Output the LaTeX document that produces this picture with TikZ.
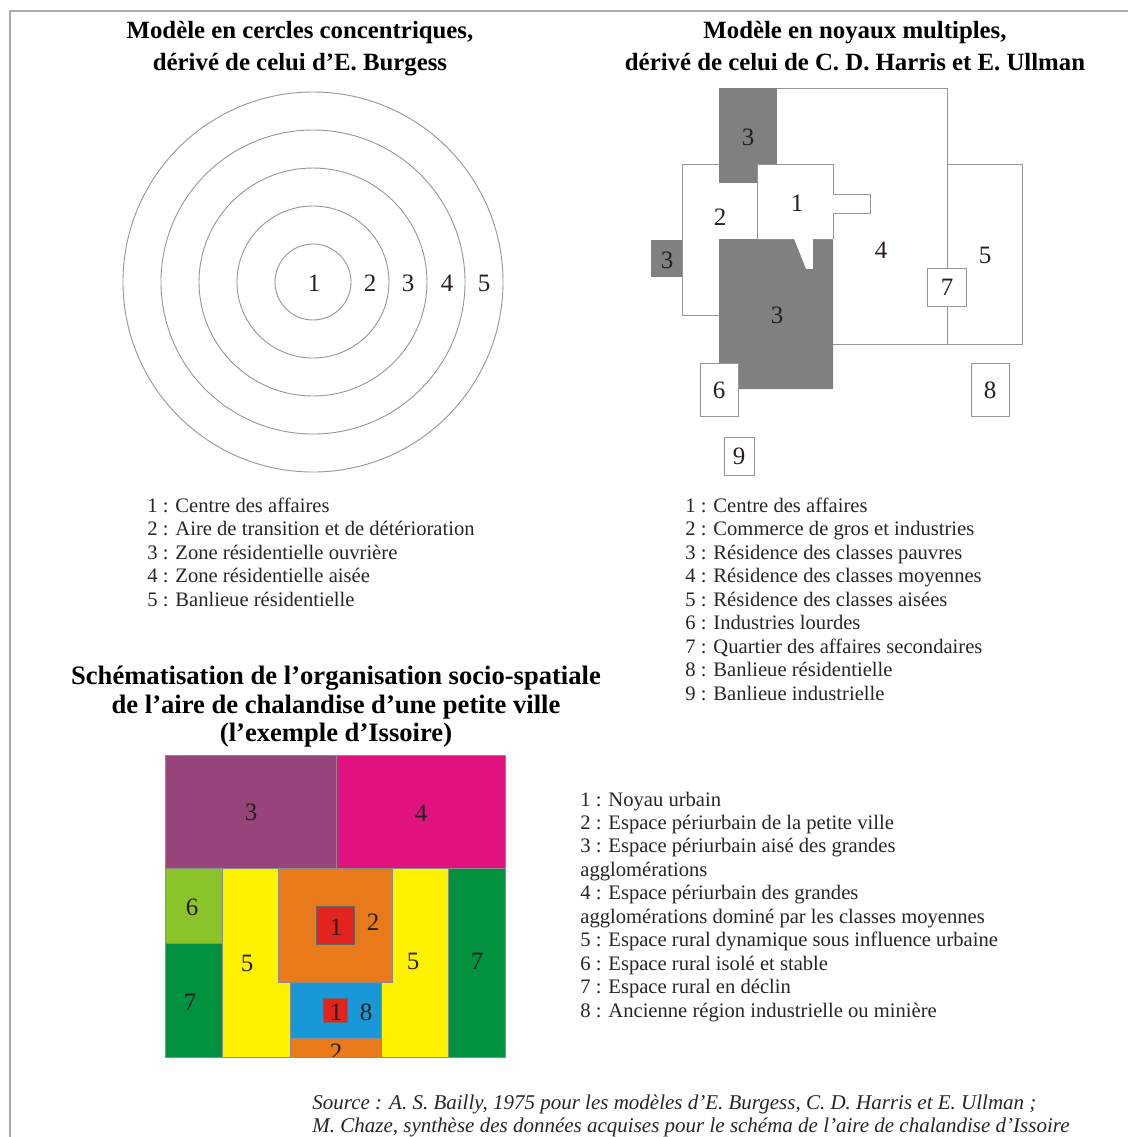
\documentclass[tikz,border=0pt]{standalone}
\usepackage{fontspec}
\setmainfont{Liberation Serif}
\definecolor{framegray}{RGB}{170,170,170}
\definecolor{linegray}{RGB}{150,150,150}
\definecolor{darkzone}{RGB}{128,128,128}
\definecolor{cpurple}{RGB}{150,68,122}
\definecolor{cmagenta}{RGB}{224,18,127}
\definecolor{clgreen}{RGB}{138,196,42}
\definecolor{cdgreen}{RGB}{0,146,63}
\definecolor{cyellow}{RGB}{255,242,0}
\definecolor{corange}{RGB}{232,122,25}
\definecolor{cred}{RGB}{226,35,30}
\definecolor{cblue}{RGB}{25,152,216}
\definecolor{labelcol}{RGB}{40,30,30}
\begin{document}
\begin{tikzpicture}[x=0.5pt,y=-0.5pt,
  lbl/.style={font=\fontsize{12.5}{14}\selectfont, inner sep=0pt, text=labelcol},
  leg/.style={font=\fontsize{10.3}{12}\selectfont, anchor=base west, inner sep=0pt, text=black!85},
  ttl/.style={font=\bfseries\fontsize{12.4}{16}\selectfont, anchor=base, inner sep=0pt},
  ttlb/.style={font=\bfseries\fontsize{13.3}{16}\selectfont, anchor=base, inner sep=0pt},
  src/.style={font=\itshape\fontsize{10.5}{12}\selectfont, anchor=base west, inner sep=0pt, text=black!85},
  ring/.style={draw=linegray, line width=0.45pt},
  zone/.style={draw=linegray, line width=0.5pt, fill=white},
  zline/.style={draw=linegray, line width=0.5pt},
  dzone/.style={fill=darkzone},
  czone/.style={draw=black!45, line width=0.3pt}]
\useasboundingbox (0,0) rectangle (1128,1137);
\fill[white] (0,0) rectangle (1128,1137);
\draw[framegray, line width=0.7pt] (10,1137) -- (10,11) -- (1128,11);

% ---- titles
\node[ttl] (t1a) at (300,38) {Modèle en cercles concentriques,};
\node[ttl] (t1b) at (300,70) {dérivé de celui d’E. Burgess};
\node[ttl] (t2a) at (855,38) {Modèle en noyaux multiples,};
\node[ttl] (t2b) at (855,70) {dérivé de celui de C. D. Harris et E. Ullman};

% ---- concentric circles
\foreach \r in {38,76,114,152,190}
  \draw[ring] (313,282) circle[radius=\r*0.5pt];
\node[lbl] (c1) at (314,283) {1};
\node[lbl] (c2) at (370,283) {2};
\node[lbl] (c3) at (408,283) {3};
\node[lbl] (c4) at (447,283) {4};
\node[lbl] (c5) at (484,283) {5};

% ---- multiple nuclei
\draw[zone] (682,164) rectangle (757,315);
\fill[dzone] (719,88) rectangle (777,183);
\draw[zline] (777,88) -- (947,88) -- (947,344) -- (833,344);
\draw[zone] (947,164) rectangle (1022,344);
\fill[dzone] (651,240) rectangle (682,277);
\fill[dzone] (719,239) -- (794,239) -- (806,269) -- (813,269) -- (813,239)
  -- (833,239) -- (833,389) -- (719,389) -- cycle;
\fill[white] (757,164) -- (833,164) -- (833,194) -- (870,194) -- (870,213)
  -- (833,213) -- (833,239) -- (757,239) -- cycle;
\draw[zline] (757,164) -- (833,164) -- (833,194) -- (870,194) -- (870,213)
  -- (833,213) -- (833,239);
\draw[zline] (757,239) -- (757,164);
\draw[zone] (700,363) rectangle (738,416);
\draw[zone] (927,268) rectangle (966,306);
\draw[zone] (971,363) rectangle (1009,416);
\draw[zone] (724,437) rectangle (754,475);
\node[lbl] (n3a) at (748,137) {3};
\node[lbl] (n2) at (720,217) {2};
\node[lbl] (n1) at (797,203) {1};
\node[lbl] (n3b) at (667,260) {3};
\node[lbl] (n4) at (881,250) {4};
\node[lbl] (n5) at (985,255) {5};
\node[lbl] (n7) at (947,287) {7};
\node[lbl] (n3c) at (777,315) {3};
\node[lbl] (n6) at (719,390) {6};
\node[lbl] (n8) at (990,390) {8};
\node[lbl] (n9) at (739,456) {9};

% ---- legends (top)
\node[leg] (la1) at (147,512) {1 : Centre des affaires};
\node[leg] (la2) at (147,535.5) {2 : Aire de transition et de détérioration};
\node[leg] (la3) at (147,559) {3 : Zone résidentielle ouvrière};
\node[leg] (la4) at (147,582.5) {4 : Zone résidentielle aisée};
\node[leg] (la5) at (147,606) {5 : Banlieue résidentielle};

\node[leg] (lb1) at (685,512) {1 : Centre des affaires};
\node[leg] (lb2) at (685,535.5) {2 : Commerce de gros et industries};
\node[leg] (lb3) at (685,559) {3 : Résidence des classes pauvres};
\node[leg] (lb4) at (685,582.5) {4 : Résidence des classes moyennes};
\node[leg] (lb5) at (685,606) {5 : Résidence des classes aisées};
\node[leg] (lb6) at (685,629.5) {6 : Industries lourdes};
\node[leg] (lb7) at (685,653) {7 : Quartier des affaires secondaires};
\node[leg] (lb8) at (685,676.5) {8 : Banlieue résidentielle};
\node[leg] (lb9) at (685,700) {9 : Banlieue industrielle};

% ---- bottom title
\node[ttlb] (t3a) at (336,684.5) {Schématisation de l’organisation socio-spatiale};
\node[ttlb] (t3b) at (336,713) {de l’aire de chalandise d’une petite ville};
\node[ttlb] (t3c) at (336,741.5) {(l’exemple d’Issoire)};

% ---- coloured scheme
\begin{scope}
\clip (165,755) rectangle (505,1057);
\fill[czone, fill=cyellow] (222,868) rectangle (448,1057);
\fill[czone, fill=corange] (278,868) rectangle (392,982);
\draw[czone, fill=cblue] (290,982) rectangle (381,1038);
\draw[czone, fill=corange] (290,1038) rectangle (381,1057);
\draw[czone, fill=cred, draw=black!60] (316,906) rectangle (354,944);
\draw[czone, fill=cred, draw=black!60] (323,998) rectangle (347,1022);
\draw[czone, fill=cpurple] (165,755) rectangle (336,868);
\draw[czone, fill=cmagenta] (336,755) rectangle (505,868);
\draw[czone, fill=clgreen] (165,868) rectangle (222,943);
\draw[czone, fill=cdgreen] (165,943) rectangle (222,1057);
\draw[czone, fill=cdgreen] (448,868) rectangle (505,1057);
\draw[czone] (222,868) rectangle (448,1057);
\draw[czone] (278,868) rectangle (392,982);
\node[lbl] (s3) at (251,812) {3};
\node[lbl] (s4) at (421,813) {4};
\node[lbl] (s6) at (192,907) {6};
\node[lbl] (s5a) at (247,963) {5};
\node[lbl] (s1a) at (336,927) {1};
\node[lbl] (s2a) at (373,922) {2};
\node[lbl] (s5b) at (413,961) {5};
\node[lbl] (s7b) at (477,961) {7};
\node[lbl] (s7a) at (190,1002) {7};
\node[lbl] (s1b) at (336,1012) {1};
\node[lbl] (s8) at (366,1012) {8};
\node[lbl] (s2b) at (336,1052) {2};
\end{scope}
\draw[czone] (165,755) rectangle (505,1057);

% ---- bottom legend
\node[leg] (lc1) at (580,806) {1 : Noyau urbain};
\node[leg] (lc2) at (580,829.45) {2 : Espace périurbain de la petite ville};
\node[leg] (lc3) at (580,852.9) {3 : Espace périurbain aisé des grandes};
\node[leg] (lc4) at (580,876.35) {agglomérations};
\node[leg] (lc5) at (580,899.8) {4 : Espace périurbain des grandes};
\node[leg] (lc6) at (580,923.25) {agglomérations dominé par les classes moyennes};
\node[leg] (lc7) at (580,946.7) {5 : Espace rural dynamique sous influence urbaine};
\node[leg] (lc8) at (580,970.15) {6 : Espace rural isolé et stable};
\node[leg] (lc9) at (580,993.6) {7 : Espace rural en déclin};
\node[leg] (lc10) at (580,1017) {8 : Ancienne région industrielle ou minière};

% ---- source
\node[src] (so1) at (312,1109) {Source : A. S. Bailly, 1975 pour les modèles d’E. Burgess, C. D. Harris et E. Ullman ;};
\node[src] (so2) at (312,1132) {M. Chaze, synthèse des données acquises pour le schéma de l’aire de chalandise d’Issoire};
\end{tikzpicture}
\end{document}
